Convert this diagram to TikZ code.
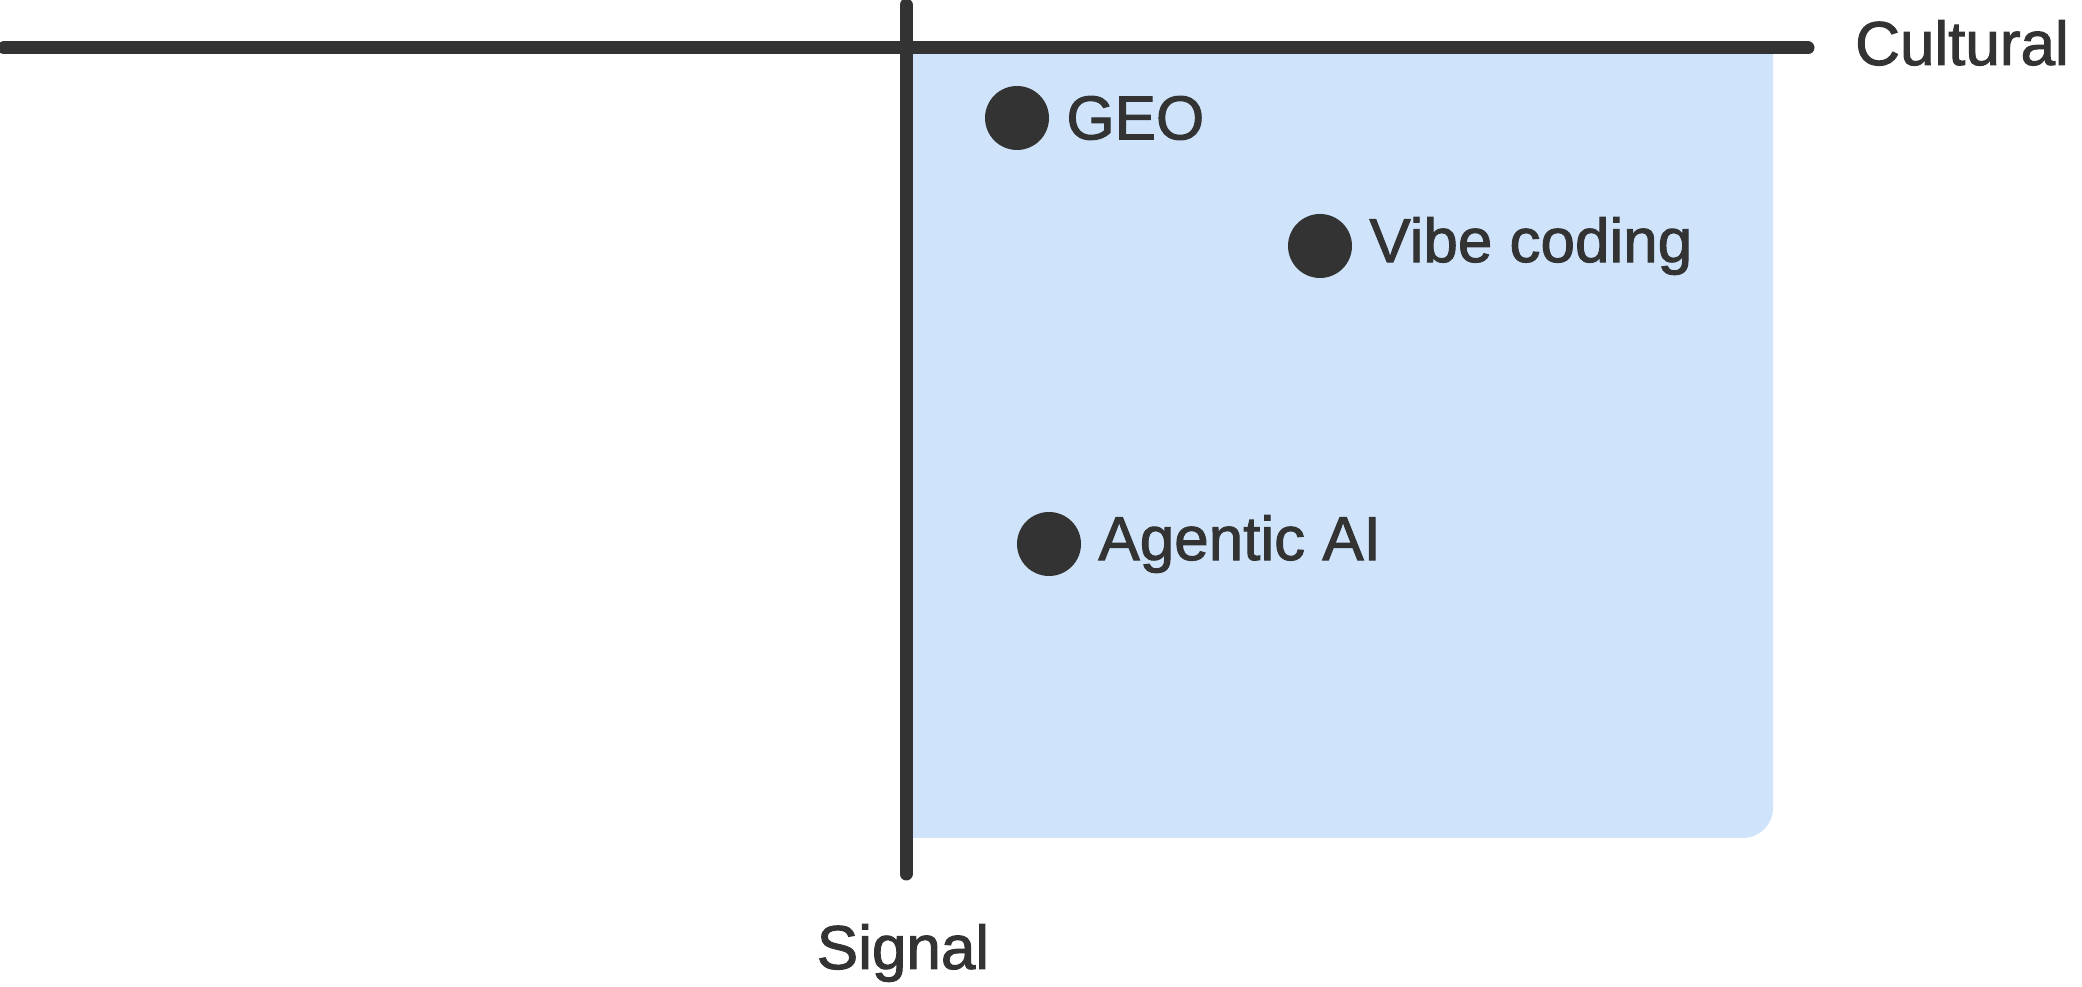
\documentclass[tikz,border=0pt]{standalone}
\usepackage{fontspec}
\setmainfont{Liberation Sans}
\newfontfamily\lblfont[FakeBold=1.6]{Liberation Sans}
\usepackage{xcolor}
\usepackage{tikz}
\usetikzlibrary{positioning}

\definecolor{inkgray}{HTML}{333333}
\definecolor{zoneblue}{HTML}{CFE4FB}

\begin{document}
\begin{tikzpicture}[x=1pt, y=1pt,
    axis/.style={draw=inkgray, line width=13pt, line cap=round},
    dot/.style={circle, fill=inkgray, minimum size=64pt, inner sep=0pt},
    lbl/.style={text=inkgray, inner sep=0pt, font=\lblfont\fontsize{62}{74}\selectfont}]
          \useasboundingbox (0,0) rectangle (2082,987);

          % shaded quadrant
          \fill[zoneblue] (906,939) -- (1773,939) -- (1773,179)
            arc[start angle=0, end angle=-90, radius=30] -- (906,149) -- cycle;

          % axes
          \coordinate (xl) at (4,939);
          \coordinate (xr) at (1808,939);
          \coordinate (yt) at (906,982);
          \coordinate (yb) at (906,113);
          \draw[axis] (xl) -- (xr);
          \draw[axis] (yt) -- (yb);

          \node[lbl, anchor=base west] (cultural) at (1855,922) {Cultural};
          \node[lbl, anchor=base] (signal) at (903,18) {Signal};

          % points
          \node[dot] (geo) at (1017,869) {};
          \node[dot] (vibe) at (1320,741) {};
          \node[dot] (agentic) at (1049,443) {};

          \node[lbl, right=17pt of geo] (geotxt) {GEO};
          \node[lbl, right=17pt of vibe] (vibetxt) {Vibe coding};
          \node[lbl, right=17pt of agentic] (agentictxt) {Agentic AI};
        \end{tikzpicture}
\end{document}
